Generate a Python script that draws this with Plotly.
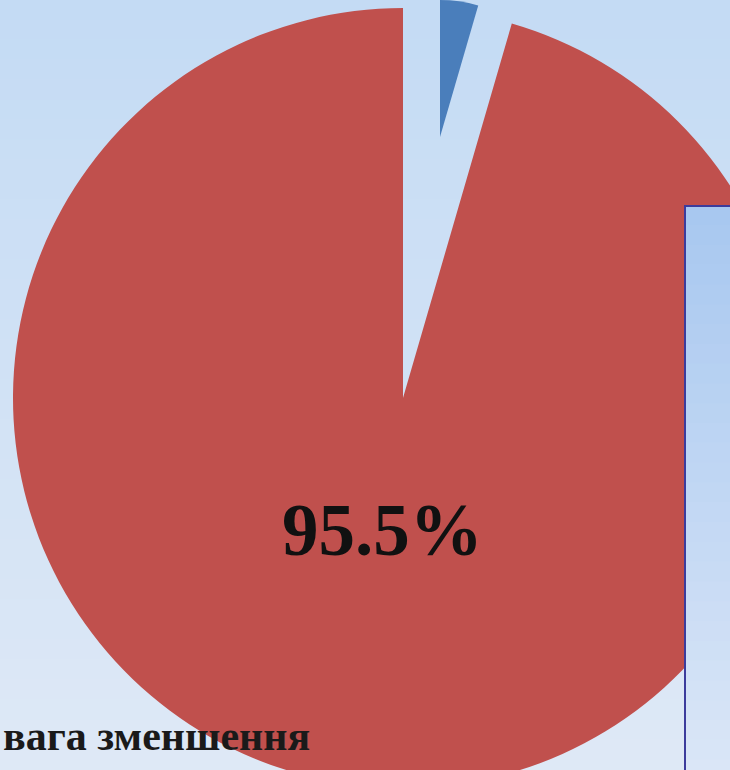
import plotly.graph_objects as go

# ---- data ----
categories = ["Сектор 1", "Сектор 2"]
shares = [4.5, 95.5]
slice_colors = ["#4A7EBB", "#C0504D"]
caption = "вага зменшення"

# ---- geometry (pixels on the page) ----
W, H = 800, 800
cx, cy, R = 403, 398, 390          # main pie centre / radius
bx, by, br = 440, 137, 137         # exploded small slice apex / radius


def dom_x(c, r):
    return [max(0, (c - r) / W), min(1, (c + r) / W)]


def dom_y(c, r):
    return [max(0, 1 - (c + r) / H), min(1, 1 - (c - r) / H)]


def lerp(c1, c2, t):
    return "rgb(%d,%d,%d)" % tuple(round(a + (b - a) * t) for a, b in zip(c1, c2))


fig = go.Figure()

# main pie: big slice drawn, small slice left empty (it is pulled out)
fig.add_trace(go.Pie(
    labels=categories, values=shares, sort=False, direction="clockwise", rotation=0,
    marker=dict(colors=["rgba(0,0,0,0)", slice_colors[1]], line=dict(width=0)),
    textinfo="none", showlegend=False,
    domain=dict(x=dom_x(cx, R), y=dom_y(cy, R)),
))
# exploded small slice
fig.add_trace(go.Pie(
    labels=categories, values=shares, sort=False, direction="clockwise", rotation=0,
    marker=dict(colors=[slice_colors[0], "rgba(0,0,0,0)"], line=dict(width=0)),
    textinfo="none", showlegend=False,
    domain=dict(x=dom_x(bx, br), y=dom_y(by, br)),
))

shapes = []
# background gradient
N = 40
top_bg, bot_bg = (196, 219, 244), (223, 233, 246)
for i in range(N):
    shapes.append(dict(type="rect", xref="paper", yref="paper", x0=0, x1=1,
                       y0=1 - (i + 1) / N, y1=1 - i / N + 0.001, layer="below",
                       fillcolor=lerp(top_bg, bot_bg, i / (N - 1)), line=dict(width=0)))
# right-hand box with gradient
box_x0, box_top = 685 / W, 1 - 206 / H
top_bx, bot_bx = (168, 200, 240), (220, 231, 247)
M = 30
for i in range(M):
    y1 = box_top - box_top * i / M
    y0 = box_top - box_top * (i + 1) / M
    shapes.append(dict(type="rect", xref="paper", yref="paper", x0=box_x0, x1=1,
                       y0=y0, y1=y1 + 0.001, layer="above",
                       fillcolor=lerp(top_bx, bot_bx, i / (M - 1)), line=dict(width=0)))
shapes.append(dict(type="rect", xref="paper", yref="paper", x0=box_x0, x1=1.01,
                   y0=-0.01, y1=box_top, layer="above",
                   fillcolor="rgba(0,0,0,0)", line=dict(color="#3C3C9C", width=2)))

pct_text = "%.1f%%" % (shares[1] / sum(shares) * 100)

fig.update_layout(
    width=W, height=H, autosize=False,
    margin=dict(l=0, r=0, t=0, b=0),
    paper_bgcolor="rgb(210,226,245)",
    plot_bgcolor="rgba(0,0,0,0)",
    shapes=shapes,
    annotations=[
        dict(text=pct_text, xref="paper", yref="paper", x=382 / W, y=1 - 530 / H,
             xanchor="center", yanchor="middle", showarrow=False,
             font=dict(family="Liberation Serif", size=73, color="#111111", weight="bold")),
        dict(text=caption, xref="paper", yref="paper", x=1 / W, y=1 - 736 / H,
             xanchor="left", yanchor="middle", showarrow=False,
             font=dict(family="Liberation Serif", size=42, color="#1a1a1a", weight="bold")),
    ],
)

fig.write_html(
    "out.html",
    post_script="document.body.style.margin='0';document.body.style.overflow='hidden';"
                "document.documentElement.style.overflow='hidden';",
)
